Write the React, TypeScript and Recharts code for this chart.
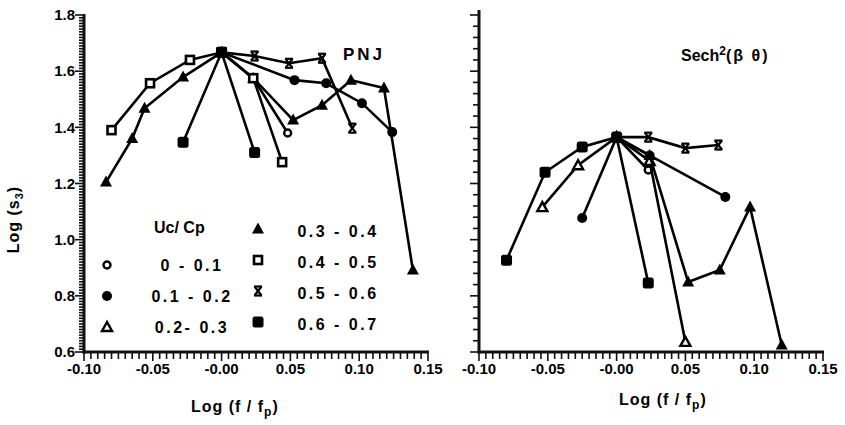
import React from 'react'
import { ScatterChart, Scatter, XAxis, YAxis } from 'recharts'

// Uc/Cp groups, left panel (PNJ)
const pnjOpenCircle = [
  { x: 0, y: 1.667 }, { x: 0.023, y: 1.575 }, { x: 0.048, y: 1.38 },
]
const pnjCircle = [
  { x: 0, y: 1.667 }, { x: 0.053, y: 1.568 }, { x: 0.076, y: 1.557 },
  { x: 0.102, y: 1.486 }, { x: 0.124, y: 1.383 },
]
const pnjTriangle = [
  { x: -0.084, y: 1.205 }, { x: -0.065, y: 1.36 }, { x: -0.056, y: 1.468 },
  { x: -0.028, y: 1.579 }, { x: 0, y: 1.667 }, { x: 0.023, y: 1.575 },
  { x: 0.052, y: 1.426 }, { x: 0.073, y: 1.479 }, { x: 0.094, y: 1.568 },
  { x: 0.118, y: 1.54 }, { x: 0.139, y: 0.892 },
]
const pnjOpenSquare = [
  { x: -0.08, y: 1.39 }, { x: -0.052, y: 1.557 }, { x: -0.023, y: 1.64 },
  { x: 0, y: 1.667 }, { x: 0.023, y: 1.575 }, { x: 0.044, y: 1.276 },
]
const pnjCross = [
  { x: 0, y: 1.667 }, { x: 0.024, y: 1.654 }, { x: 0.049, y: 1.628 },
  { x: 0.073, y: 1.646 }, { x: 0.095, y: 1.397 },
]
const pnjSquare = [
  { x: -0.028, y: 1.347 }, { x: 0, y: 1.667 }, { x: 0.024, y: 1.31 },
]

// right panel (Sech^2)
const sechOpenCircle = [
  { x: 0, y: 1.365 }, { x: 0.023, y: 1.248 },
]
const sechCircle = [
  { x: -0.025, y: 1.077 }, { x: 0, y: 1.365 }, { x: 0.024, y: 1.3 }, { x: 0.079, y: 1.152 },
]
const sechOpenTriangle = [
  { x: -0.054, y: 1.116 }, { x: -0.028, y: 1.265 }, { x: 0, y: 1.365 },
  { x: 0.024, y: 1.28 }, { x: 0.05, y: 0.636 },
]
const sechTriangle = [
  { x: 0, y: 1.365 }, { x: 0.024, y: 1.3 }, { x: 0.052, y: 0.849 },
  { x: 0.075, y: 0.892 }, { x: 0.097, y: 1.116 }, { x: 0.12, y: 0.625 },
]
const sechCross = [
  { x: 0, y: 1.365 }, { x: 0.023, y: 1.365 }, { x: 0.05, y: 1.326 }, { x: 0.074, y: 1.337 },
]
const sechSquare = [
  { x: -0.08, y: 0.927 }, { x: -0.052, y: 1.24 }, { x: -0.025, y: 1.33 },
  { x: 0, y: 1.365 }, { x: 0.023, y: 0.846 },
]

const legendLeft = [
  { kind: 'openCircle', label: '0 - 0.1' },
  { kind: 'circle', label: '0.1 - 0.2' },
  { kind: 'openTriangle', label: '0.2- 0.3' },
]
const legendRight = [
  { kind: 'triangle', label: '0.3 - 0.4' },
  { kind: 'openSquare', label: '0.4 - 0.5' },
  { kind: 'cross', label: '0.5 - 0.6' },
  { kind: 'square', label: '0.6 - 0.7' },
]

const FONT = '"Liberation Sans", Arial, sans-serif'

const X_DOMAIN = [-0.1, 0.15]
const Y_DOMAIN = [0.6, 1.8]

const range = (a: number, b: number, step: number) => {
  const out: number[] = []
  const n = Math.round((b - a) / step)
  for (let i = 0; i <= n; i++) out.push(+(a + i * step).toFixed(4))
  return out
}
const isMultiple = (v: number, step: number) => Math.abs(v / step - Math.round(v / step)) < 1e-6

const yTicksLeft = range(0.6, 1.8, 0.01)
const yTicksRight = range(0.6, 1.8, 0.04)
const xTicks = range(-0.1, 0.15, 0.005)

const xLabel = (v: number) => (isMultiple(v, 0.05) ? (v === 0 ? '-0.00' : v.toFixed(2)) : '')
const yLabel = (v: number) => (isMultiple(v, 0.2) ? v.toFixed(1) : '')

// panel geometry (plot area in page pixels)
const TOP = 15
const BOTTOM = 352
const LEFT_PANEL = { left: 0, width: 446, yAxisWidth: 84, right: 18 }
const RIGHT_PANEL = { left: 446, width: 399, yAxisWidth: 33, right: 22 }

function Marker({ kind, cx, cy }: { kind: string; cx: number; cy: number }) {
  switch (kind) {
    case 'openCircle':
      return <circle cx={cx} cy={cy} r={3.5} fill="#fff" stroke="#000" strokeWidth={2.4} />
    case 'circle':
      return <circle cx={cx} cy={cy} r={5} fill="#000" />
    case 'openTriangle':
      return <polygon points={`${cx},${cy - 5} ${cx - 5},${cy + 4} ${cx + 5},${cy + 4}`} fill="#fff" stroke="#000" strokeWidth={2.4} />
    case 'triangle':
      return <polygon points={`${cx},${cy - 6.5} ${cx - 6},${cy + 4.5} ${cx + 6},${cy + 4.5}`} fill="#000" />
    case 'openSquare':
      return <rect x={cx - 4} y={cy - 4} width={8} height={8} fill="#fff" stroke="#000" strokeWidth={2.6} />
    case 'cross':
      return (
        <g stroke="#000" strokeWidth={2.2}>
          <line x1={cx - 3.5} y1={cy - 4.5} x2={cx + 3.5} y2={cy + 4.5} />
          <line x1={cx + 3.5} y1={cy - 4.5} x2={cx - 3.5} y2={cy + 4.5} />
          <line x1={cx - 4} y1={cy - 4.5} x2={cx + 4} y2={cy - 4.5} />
          <line x1={cx - 4} y1={cy + 4.5} x2={cx + 4} y2={cy + 4.5} />
        </g>
      )
    default:
      return <rect x={cx - 5.5} y={cy - 5.5} width={11} height={11} rx={2.5} fill="#000" />
  }
}

const line = { stroke: '#000', strokeWidth: 2.6 }
const tickStyle = { fill: '#000', fontSize: 15, fontWeight: 'bold', fontFamily: FONT }

function Panel({ series, showYLabels, geo }: any) {
  return (
    <ScatterChart width={geo.width} height={425} margin={{ top: TOP, right: geo.right, bottom: 0, left: 0 }}>
      <XAxis
        type="number"
        dataKey="x"
        domain={X_DOMAIN}
        ticks={xTicks}
        interval={0}
        stroke="#000"
        axisLine={false}
        tickLine={false}
        tickSize={7}
        tickMargin={4}
        tickFormatter={xLabel}
        tick={tickStyle}
        height={425 - BOTTOM}
      />
      <YAxis
        type="number"
        dataKey="y"
        domain={Y_DOMAIN}
        ticks={yTicksLeft.filter(v => isMultiple(v, 0.2))}
        interval={0}
        stroke="#000"
        axisLine={false}
        tickLine={false}
        tickSize={6}
        tickMargin={3}
        tickFormatter={showYLabels ? yLabel : () => ''}
        tick={tickStyle}
        width={geo.yAxisWidth}
      />
      {series.map((s: any, i: number) => (
        <Scatter
          key={i}
          data={s.data}
          line={line}
          lineType="joint"
          isAnimationActive={false}
          shape={(p: any) => <Marker kind={s.kind} cx={p.cx} cy={p.cy} />}
        />
      ))}
    </ScatterChart>
  )
}

// axis frame and tick marks as filled rects over each panel's plot area
function AxisFrame({ geo, yTicks, yMinor, yTop }: any) {
  const L = geo.left + geo.yAxisWidth
  const R = geo.left + geo.width - geo.right
  const sx = (v: number) => L + ((v - X_DOMAIN[0]) / (X_DOMAIN[1] - X_DOMAIN[0])) * (R - L)
  const sy = (v: number) => BOTTOM - ((v - Y_DOMAIN[0]) / (Y_DOMAIN[1] - Y_DOMAIN[0])) * (BOTTOM - TOP)
  return (
    <g fill="#111">
      {xTicks.map(v => (
        <rect key={'x' + v} x={sx(v) - 0.8} y={BOTTOM} width={1.6} height={isMultiple(v, 0.05) ? 9 : 7} />
      ))}
      {yTicks.map((v: number) => {
        const len = isMultiple(v, 0.2) ? 9 : yMinor
        return <rect key={'y' + v} x={L - len} y={sy(v) - 0.8} width={len} height={1.6} />
      })}
      <rect x={L - 1.5} y={BOTTOM - 1.5} width={R - L + 2.5} height={3} />
      <rect x={L - 1.5} y={yTop} width={3} height={BOTTOM - yTop + 1.5} />
    </g>
  )
}

const leftSeries = [
  { data: pnjOpenCircle, kind: 'openCircle' },
  { data: pnjCircle, kind: 'circle' },
  { data: pnjTriangle, kind: 'triangle' },
  { data: pnjOpenSquare, kind: 'openSquare' },
  { data: pnjCross, kind: 'cross' },
  { data: pnjSquare, kind: 'square' },
]
const rightSeries = [
  { data: sechOpenCircle, kind: 'openCircle' },
  { data: sechCircle, kind: 'circle' },
  { data: sechOpenTriangle, kind: 'openTriangle' },
  { data: sechTriangle, kind: 'triangle' },
  { data: sechCross, kind: 'cross' },
  { data: sechSquare, kind: 'square' },
]

const label = (left: number, top: number, size = 16): React.CSSProperties => ({
  position: 'absolute', left, top, fontFamily: FONT, fontWeight: 'bold', fontSize: size,
  lineHeight: 1, whiteSpace: 'nowrap', color: '#000',
})

function LegendIcon({ kind, left, top }: { kind: string; left: number; top: number }) {
  return (
    <svg width={16} height={16} style={{ position: 'absolute', left: left - 8, top: top - 8 }}>
      <Marker kind={kind} cx={8} cy={8} />
    </svg>
  )
}

export default function App() {
  return (
    <div style={{ position: 'absolute', left: 0, top: 0, width: 845, height: 425, background: '#fff' }}>
      <div style={{ position: 'absolute', left: LEFT_PANEL.left, top: 0 }}>
        <Panel series={leftSeries} showYLabels geo={LEFT_PANEL} />
      </div>
      <div style={{ position: 'absolute', left: RIGHT_PANEL.left, top: 0 }}>
        <Panel series={rightSeries} showYLabels={false} geo={RIGHT_PANEL} />
      </div>
      <svg width={845} height={425} style={{ position: 'absolute', left: 0, top: 0, pointerEvents: 'none' }}>
        <AxisFrame geo={LEFT_PANEL} yTicks={yTicksLeft} yMinor={5} yTop={TOP - 1} />
        <AxisFrame geo={RIGHT_PANEL} yTicks={yTicksRight} yMinor={6} yTop={TOP - 5} />
      </svg>

      <div style={{ ...label(-18, 210), transform: 'rotate(-90deg)', letterSpacing: 1 }}>
        Log (s<sub style={{ fontSize: 11 }}>3</sub>)
      </div>
      <div style={{ ...label(191, 399), letterSpacing: 1 }}>
        Log (f / f<sub style={{ fontSize: 12 }}>p</sub>)
      </div>
      <div style={{ ...label(619, 392), letterSpacing: 1 }}>
        Log (f / f<sub style={{ fontSize: 12 }}>p</sub>)
      </div>
      <div style={{ ...label(343, 46, 17), letterSpacing: 3 }}>PNJ</div>
      <div style={{ ...label(681, 45) }}>
        Sech<sup style={{ fontSize: 12 }}>2</sup><span style={{ letterSpacing: 2 }}>(β θ)</span>
      </div>
      <div style={label(154, 220)}>Uc/ Cp</div>
      {legendLeft.map((l, i) => (
        <React.Fragment key={l.kind}>
          <LegendIcon kind={l.kind} left={107} top={265 + i * 31} />
          <div style={{ ...label(150, 258 + i * 31), width: 84, textAlign: 'center', letterSpacing: 2.5 }}>{l.label}</div>
        </React.Fragment>
      ))}
      {legendRight.map((l, i) => (
        <React.Fragment key={l.kind}>
          <LegendIcon kind={l.kind} left={258} top={229 + i * 31} />
          <div style={{ ...label(294, 224 + i * 31), width: 88, textAlign: 'center', letterSpacing: 2.5 }}>{l.label}</div>
        </React.Fragment>
      ))}
    </div>
  )
}
